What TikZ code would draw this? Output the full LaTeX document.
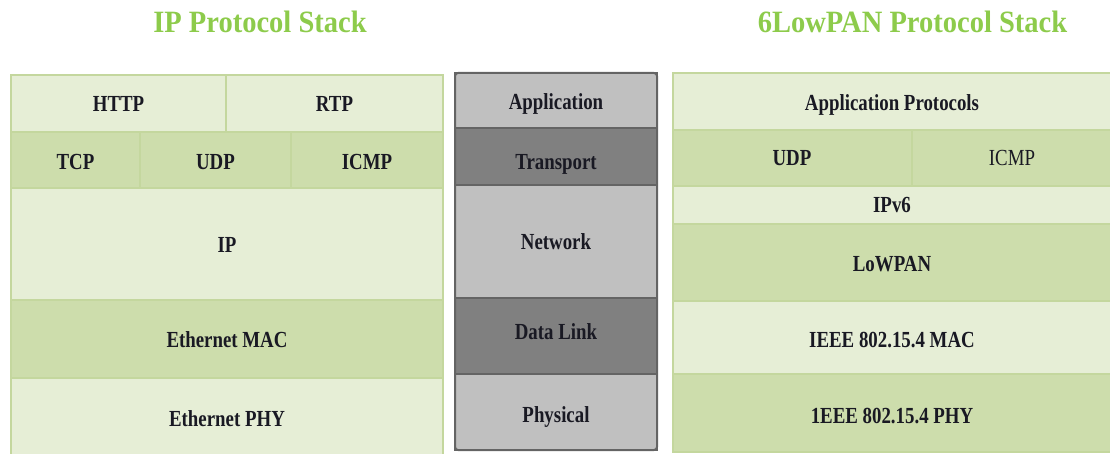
\documentclass[tikz,border=0pt]{standalone}
\usepackage{fontspec}
\setmainfont{Liberation Serif}[FakeStretch=0.82]
\newfontfamily\titlefont{Liberation Serif}[FakeStretch=0.92]
\usetikzlibrary{positioning}
\definecolor{paleg}{RGB}{230,238,214}
\definecolor{midg}{RGB}{205,221,172}
\definecolor{lineg}{RGB}{196,215,158}
\definecolor{titleg}{RGB}{141,203,75}
\definecolor{lgray}{RGB}{192,192,192}
\definecolor{dgray}{RGB}{128,128,128}
\definecolor{edgegray}{RGB}{100,100,100}
\definecolor{ink}{RGB}{25,25,35}
\tikzstyle{pale} = [fill=paleg,draw=lineg,line width=1.5pt]
\tikzstyle{mid} = [fill=midg,draw=lineg,line width=1.5pt]
\tikzstyle{osilight} = [fill=lgray,draw=edgegray,line width=1.2pt]
\tikzstyle{osidark} = [fill=dgray,draw=edgegray,line width=1.2pt]
\tikzstyle{layer} = [anchor=base,inner sep=0,text=ink,font=\fontsize{23}{23}\selectfont\bfseries]
\tikzstyle{title} = [anchor=base,inner sep=0,text=titleg,font=\titlefont\fontsize{31}{31}\selectfont\bfseries]

\begin{document}
\begin{tikzpicture}[x=1pt,y=-1pt]
  \useasboundingbox (0,0) rectangle (1110,454);
  % titles
  \node[title] (iptitle) at (260,33) {IP Protocol Stack};
  \node[title] (lowtitle) at (912.5,33) {6LowPAN Protocol Stack};

  % IP stack
  \filldraw[pale] (11,75) rectangle (226,132);
  \filldraw[pale] (226,75) rectangle (443,132);
  \filldraw[mid] (11,132) rectangle (140,188);
  \filldraw[mid] (140,132) rectangle (291,188);
  \filldraw[mid] (291,132) rectangle (443,188);
  \filldraw[pale] (11,188) rectangle (443,300);
  \filldraw[mid] (11,300) rectangle (443,378);
  \filldraw[pale] (11,378) rectangle (443,458);
  \node[layer] (http) at (118.5,111.5) {HTTP};
  \node[layer] (rtp) at (334.5,111.5) {RTP};
  \node[layer] (tcp) at (75.5,169.5) {TCP};
  \node[layer] (udp) at (215.5,169.5) {UDP};
  \node[layer] (icmp) at (367,169.5) {ICMP};
  \node[layer] (ip) at (227,253) {IP};
  \node[layer] (ethmac) at (227,347.5) {Ethernet MAC};
  \node[layer] (ethphy) at (227,426) {Ethernet PHY};

  % OSI layers
  \filldraw[osilight] (455,73) rectangle (657,128);
  \filldraw[osidark] (455,128) rectangle (657,185);
  \filldraw[osilight] (455,185) rectangle (657,298);
  \filldraw[osidark] (455,298) rectangle (657,374);
  \filldraw[osilight] (455,374) rectangle (657,450);
  \draw[draw=edgegray,line width=2pt,rounded corners=3pt] (455,73) rectangle (657,450);
  \node[layer] (app) at (556,110) {Application};
  \node[layer] (transport) at (556,170) {Transport};
  \node[layer] (network) at (556,250) {Network};
  \node[layer] (datalink) at (556,339) {Data Link};
  \node[layer] (physical) at (556,422) {Physical};

  % 6LowPAN stack
  \filldraw[pale] (673,73) rectangle (1112,130);
  \filldraw[mid] (673,130) rectangle (912,186);
  \filldraw[mid] (912,130) rectangle (1112,186);
  \filldraw[pale] (673,186) rectangle (1112,224);
  \filldraw[mid] (673,224) rectangle (1112,301);
  \filldraw[pale] (673,301) rectangle (1112,374);
  \filldraw[mid] (673,374) rectangle (1112,452);
  \node[layer] (appproto) at (892,111) {Application Protocols};
  \node[layer] (lowudp) at (792,166) {UDP};
  \node[layer,font=\fontsize{23}{23}\selectfont] (lowicmp) at (1012,166) {ICMP};
  \node[layer] (ipv6) at (892,213) {IPv6};
  \node[layer] (lowpan) at (892,272) {LoWPAN};
  \node[layer] (ieeemac) at (892,347) {IEEE 802.15.4 MAC};
  \node[layer] (ieeephy) at (892,423) {1EEE 802.15.4 PHY};
\end{tikzpicture}
\end{document}
